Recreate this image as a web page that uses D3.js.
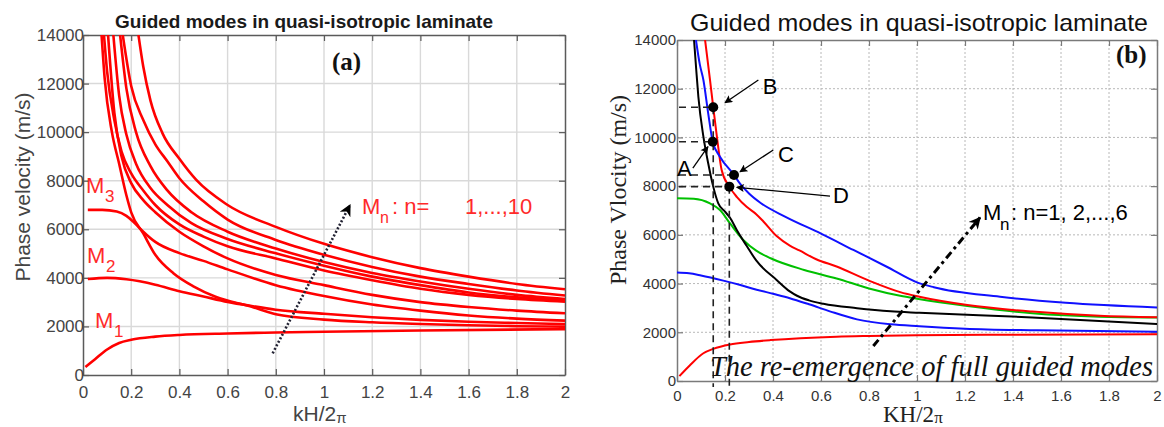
<!DOCTYPE html>
<html><head><meta charset="utf-8">
<script src="https://cdn.jsdelivr.net/npm/d3@7"></script>
<style>body{margin:0;background:#fff}svg{display:block}</style>
</head><body><svg id="c" width="1164" height="427"></svg>
<script>
// ---------------- DATA ----------------
const xTickVals = [0,0.2,0.4,0.6,0.8,1,1.2,1.4,1.6,1.8,2];
const xTickText = ["0","0.2","0.4","0.6","0.8","1","1.2","1.4","1.6","1.8","2"];
const yTickVals = [0,2000,4000,6000,8000,10000,12000,14000];
const yTickText = ["0","2000","4000","6000","8000","10000","12000","14000"];

const titleA = "Guided modes in quasi-isotropic laminate";
const titleB = "Guided modes in quasi-isotropic laminate";
const yLabelA = "Phase velocity (m/s)";
const yLabelB = "Phase Vlocity (m/s)";

// Panel (a): 10 guided modes [kH/2pi, phase velocity]
const a_M1 = [[0.01,330],[0.05,650],[0.1,1050],[0.15,1320],[0.2,1450],[0.3,1580],[0.4,1650],[0.6,1710],[0.8,1750],[1.0,1780],[1.4,1830],[2.0,1890]];
const a_M2 = [[0.02,3950],[0.1,4000],[0.18,3940],[0.3,3720],[0.4,3450],[0.5,3230],[0.6,3010],[0.7,2840],[0.8,2690],[1.0,2520],[1.2,2380],[1.4,2270],[1.6,2190],[1.8,2140],[2.0,2100]];
const a_M3 = [[0.02,6800],[0.08,6800],[0.14,6730],[0.18,6550],[0.21,6300],[0.25,5900],[0.3,5480],[0.4,5020],[0.5,4700],[0.6,4350],[0.8,3700],[1.0,3250],[1.2,2900],[1.4,2650],[1.6,2450],[1.8,2320],[2.0,2240]];
const a_S  = [[0.077,14000],[0.09,12200],[0.12,10000],[0.15,8700],[0.18,7400],[0.2,6700],[0.25,5830],[0.3,4950],[0.375,4190],[0.46,3640],[0.55,3220],[0.7,2810],[0.8,2500],[1.0,2280],[1.2,2170],[1.4,2100],[1.6,2050],[1.8,2010],[2.0,1990]];
const a_T1 = [[0.104,14000],[0.13,10800],[0.16,9000],[0.2,7900],[0.25,7200],[0.3,6700],[0.4,5900],[0.5,5300],[0.6,4800],[0.8,4120],[1.0,3700],[1.2,3300],[1.4,3000],[1.6,2800],[1.8,2650],[2.0,2540]];
const a_T2 = [[0.087,14000],[0.1,12500],[0.13,10500],[0.16,9200],[0.2,8300],[0.25,7600],[0.3,7000],[0.4,6200],[0.5,5700],[0.6,5300],[0.8,4800],[1.0,4300],[1.2,3900],[1.4,3550],[1.6,3300],[1.8,3130],[2.0,3020]];
const a_T3 = [[0.126,14000],[0.15,11500],[0.18,9900],[0.22,8700],[0.28,7700],[0.35,7000],[0.45,6250],[0.6,5600],[0.8,5010],[1.0,4500],[1.2,4050],[1.4,3700],[1.6,3400],[1.8,3200],[2.0,3080]];
const a_T4 = [[0.154,14000],[0.18,11800],[0.22,10000],[0.28,8600],[0.35,7600],[0.45,6700],[0.6,5900],[0.8,5210],[1.0,4650],[1.2,4200],[1.4,3850],[1.6,3550],[1.8,3300],[2.0,3130]];
const a_T5 = [[0.165,14000],[0.2,11900],[0.25,10500],[0.3,9500],[0.35,8800],[0.4,8100],[0.5,7150],[0.6,6400],[0.8,5560],[1.0,4950],[1.2,4450],[1.4,4050],[1.6,3750],[1.8,3480],[2.0,3270]];
const a_T6 = [[0.23,14000],[0.25,12700],[0.28,11300],[0.33,9950],[0.4,8900],[0.47,8030],[0.6,7000],[0.8,6100],[1.0,5400],[1.2,4850],[1.4,4400],[1.6,4050],[1.8,3750],[2.0,3530]];

// Panel (b): 6 guided modes
const b_red1  = [[0.01,200],[0.054,650],[0.11,1140],[0.151,1320],[0.221,1500],[0.3,1600],[0.39,1680],[0.665,1820],[0.8,1850],[1.0,1880],[1.4,1900],[2.0,1920]];
const b_blue1 = [[0,4450],[0.05,4420],[0.1,4330],[0.193,4120],[0.26,3950],[0.332,3750],[0.4,3580],[0.47,3400],[0.55,3150],[0.64,2850],[0.75,2530],[0.89,2330],[1.01,2250],[1.2,2150],[1.5,2080],[2.0,2020]];
const b_green = [[0,7500],[0.07,7480],[0.1375,7290],[0.179,7020],[0.221,6470],[0.276,5790],[0.33,5350],[0.39,5040],[0.53,4560],[0.665,4210],[0.8,3800],[0.93,3500],[1.0,3380],[1.21,3080],[1.48,2780],[1.76,2640],[2.0,2610]];
const b_black = [[0.071,14000],[0.08,12800],[0.089,11670],[0.11,10030],[0.13,8940],[0.151,7980],[0.172,7290],[0.2,6950],[0.221,6700],[0.249,6200],[0.29,5550],[0.33,4950],[0.415,4150],[0.47,3680],[0.5,3500],[0.55,3310],[0.61,3170],[0.75,2990],[0.89,2860],[1.01,2800],[1.48,2610],[2.0,2340]];
const b_red2  = [[0.117,14000],[0.1375,12360],[0.151,11240],[0.168,9890],[0.186,8660],[0.218,7980],[0.25,7550],[0.29,7150],[0.33,6850],[0.36,6550],[0.415,5950],[0.47,5560],[0.51,5360],[0.58,5000],[0.665,4700],[0.8,4120],[0.93,3650],[1.01,3460],[1.21,3120],[1.48,2850],[1.76,2680],[2.0,2620]];
const b_blue2 = [[0.079,14000],[0.095,13000],[0.11,12360],[0.13,10990],[0.149,9820],[0.179,9210],[0.2375,8460],[0.2625,8100],[0.3,7700],[0.35,7300],[0.45,6750],[0.6,6050],[0.735,5380],[0.874,4690],[1.0,4050],[1.07,3850],[1.346,3460],[1.62,3210],[2.0,3020]];

// Panel (b) marked points A-D
const ptLabels = ["A","B","C","D"];
const ptK = [0.149,0.151,0.2375,0.218];
const ptV = [9820,11240,8460,7980];

// annotation arrows (data units)
const arrowA_from = [0.787,893], arrowA_to = [1.108,7000];
const arrowB_from = [0.818,1437], arrowB_to = [1.2625,6710];

// ---------------- DRAW ----------------
const sans = "'Liberation Sans', Arial, sans-serif";
const serif = "'Liberation Serif', 'Times New Roman', serif";
const svg = d3.select("#c");
const defs = svg.append("defs");
function mk(id, len, wid, shape){
  defs.append("marker").attr("id",id).attr("viewBox","0 0 10 10")
    .attr("refX",9).attr("refY",5).attr("markerUnits","userSpaceOnUse")
    .attr("markerWidth",len).attr("markerHeight",wid).attr("orient","auto")
    .append("path").attr("d",shape).attr("fill","#000");
}
mk("ahThin",13,8,"M0,0 L10,5 L0,10 L2,5 z");
mk("ahBig",16,12,"M0,0 L10,5 L0,10 L3,5 z");

const xA = d3.scaleLinear([0,2],[83,565]);
const yA = d3.scaleLinear([0,14000],[375,35]);
const xB = d3.scaleLinear([0,2],[677,1157]);
const yB = d3.scaleLinear([0,14000],[381,40]);

function panel(g, x, y, opt){
  const [x0,x1] = x.range(), [y0,y1] = y.range();
  g.append("clipPath").attr("id",opt.id).append("rect")
    .attr("x",x0).attr("y",y1).attr("width",x1-x0).attr("height",y0-y1);
  g.append("g").selectAll("line").data(xTickVals.slice(1,-1)).join("line")
    .attr("x1",d=>x(d)).attr("x2",d=>x(d)).attr("y1",y1).attr("y2",y0)
    .attr("stroke",opt.grid).attr("stroke-width",opt.gridW).attr("stroke-dasharray",opt.gridDash);
  g.append("g").selectAll("line").data(yTickVals.slice(1,-1)).join("line")
    .attr("y1",d=>y(d)).attr("y2",d=>y(d)).attr("x1",x0).attr("x2",x1)
    .attr("stroke",opt.grid).attr("stroke-width",opt.gridW).attr("stroke-dasharray",opt.gridDash);
  const fx = (d,i)=>xTickText[i], fy=(d,i)=>yTickText[i];
  const axB = g.append("g").attr("transform",`translate(0,${y0})`)
    .call(d3.axisBottom(x).tickValues(xTickVals).tickFormat(fx).tickSizeInner(-6).tickSizeOuter(0).tickPadding(opt.xPad));
  const axL = g.append("g").attr("transform",`translate(${x0},0)`)
    .call(d3.axisLeft(y).tickValues(yTickVals).tickFormat(fy).tickSizeInner(-6).tickSizeOuter(0).tickPadding(opt.yPad));
  const axT = g.append("g").attr("transform",`translate(0,${y1})`)
    .call(d3.axisTop(x).tickValues(xTickVals).tickFormat("").tickSizeInner(-6).tickSizeOuter(0));
  const axR = g.append("g").attr("transform",`translate(${x1},0)`)
    .call(d3.axisRight(y).tickValues(yTickVals).tickFormat("").tickSizeInner(-6).tickSizeOuter(0));
  [axB,axL,axT,axR].forEach(a=>{
    a.select(".domain").attr("stroke",opt.frame).attr("stroke-width",1.5);
    a.selectAll(".tick line").attr("stroke",opt.frame).attr("stroke-width",1.2);
    a.selectAll("text").attr("font-family",sans).attr("font-size",opt.tickFs).attr("fill",opt.tickCol);
  });
}

// ---- Panel (a)
const gA = svg.append("g");
panel(gA, xA, yA, {id:"clipA", grid:"#d9d9d9", gridW:1.4, gridDash:null, frame:"#5a5a5a", xPad:11, yPad:-1, tickFs:17, tickCol:"#444"});
const lineA = d3.line().x(d=>xA(d[0])).y(d=>yA(d[1])).curve(d3.curveMonotoneX);
const modesA = [a_M1,a_M2,a_M3,a_S,a_T1,a_T2,a_T3,a_T4,a_T5,a_T6];
gA.append("g").attr("clip-path","url(#clipA)").selectAll("path").data(modesA).join("path")
  .attr("d",lineA).attr("fill","none").attr("stroke","#ff0000").attr("stroke-width",2.6);

gA.append("text").attr("x",115).attr("y",28).attr("font-family",sans).attr("font-weight","bold")
  .attr("font-size",19).attr("fill","#1a1a1a").text(titleA);
gA.append("text").attr("x",332).attr("y",70).attr("font-family",serif).attr("font-weight","bold")
  .attr("font-size",25).attr("fill","#111").text("(a)");
gA.append("text").attr("transform","translate(30,187) rotate(-90)").attr("text-anchor","middle")
  .attr("font-family",sans).attr("font-size",21).attr("fill","#444").text(yLabelA);
const xlA = gA.append("text").attr("x",293).attr("y",421).attr("font-family",sans).attr("font-size",21).attr("fill","#444");
xlA.append("tspan").text("kH/2");
xlA.append("tspan").attr("font-size",15).attr("dy",2).text("π");

function mLabel(g, x, y, sub, col){
  g.append("text").attr("x",x).attr("y",y).attr("font-family",sans).attr("font-size",22).attr("fill",col).text("M");
  g.append("text").attr("x",x+19).attr("y",y+9).attr("font-family",sans).attr("font-size",17).attr("fill",col).text(sub);
}
const redLab = "#ff2a2a";
mLabel(gA, 86, 193, "3", redLab);
mLabel(gA, 87, 263, "2", redLab);
mLabel(gA, 95, 328, "1", redLab);
gA.append("text").attr("x",362).attr("y",214).attr("font-family",sans).attr("font-size",22).attr("fill",redLab).text("M");
gA.append("text").attr("x",380).attr("y",223).attr("font-family",sans).attr("font-size",16).attr("fill",redLab).text("n");
gA.append("text").attr("x",392).attr("y",214).attr("font-family",sans).attr("font-size",22).attr("fill",redLab).text(": n=");
gA.append("text").attr("x",465).attr("y",214).attr("font-family",sans).attr("font-size",22).attr("fill",redLab).text("1,...,10");
gA.append("line").attr("x1",xA(arrowA_from[0])).attr("y1",yA(arrowA_from[1]))
  .attr("x2",xA(arrowA_to[0])).attr("y2",yA(arrowA_to[1]))
  .attr("stroke","#223").attr("stroke-width",2.6).attr("stroke-dasharray","2,2").attr("marker-end","url(#ahBig)");

// ---- Panel (b)
const gB = svg.append("g");
panel(gB, xB, yB, {id:"clipB", grid:"#b8b8b8", gridW:1, gridDash:"2,2", frame:"#7a7a7a", xPad:9, yPad:1, tickFs:15, tickCol:"#333"});
const lineB = d3.line().x(d=>xB(d[0])).y(d=>yB(d[1])).curve(d3.curveMonotoneX);
const modesB = [b_red1,b_blue1,b_green,b_black,b_red2,b_blue2];
const colorsB = ["#ff0000","#1010ff","#00c000","#000000","#ff0000","#1010ff"];
gB.append("g").attr("clip-path","url(#clipB)").selectAll("path").data(modesB).join("path")
  .attr("d",lineB).attr("fill","none").attr("stroke",(d,i)=>colorsB[i]).attr("stroke-width",2);

// dashed guide lines
const pts = ptLabels.map((l,i)=>({l, k:ptK[i], v:ptV[i]}));
const dashG = gB.append("g").attr("stroke","#222").attr("stroke-width",1.6).attr("stroke-dasharray","7,5").attr("fill","none");
dashG.selectAll("line.h").data(pts).join("line").attr("class","h")
  .attr("x1",xB(0)+2).attr("x2",d=>xB(d.k)).attr("y1",d=>yB(d.v)).attr("y2",d=>yB(d.v));
dashG.selectAll("line.v").data(pts.filter(d=>d.l==="B"||d.l==="D")).join("line").attr("class","v")
  .attr("x1",d=>xB(d.k)).attr("x2",d=>xB(d.k)).attr("y1",d=>yB(d.v)).attr("y2",yB(-250));
gB.append("g").selectAll("circle").data(pts).join("circle")
  .attr("cx",d=>xB(d.k)).attr("cy",d=>yB(d.v)).attr("r",5).attr("fill","#000");

// point labels + arrows: [label position, arrow start, arrow tip]
const labPos = {A:[[0.0,8400],[0.066,8744],[0.129,9618]], B:[[0.357,11800],[0.339,12356],[0.2,11425]],
                C:[[0.421,9000],[0.401,9483],[0.2625,8592]], D:[[0.65,7300],[0.6375,7594],[0.249,7952]]};
pts.forEach(p=>{
  const [t,f,to] = labPos[p.l];
  gB.append("line").attr("x1",xB(f[0])).attr("y1",yB(f[1])).attr("x2",xB(to[0])).attr("y2",yB(to[1]))
    .attr("stroke","#000").attr("stroke-width",1.3).attr("marker-end","url(#ahThin)");
  gB.append("text").attr("x",xB(t[0])).attr("y",yB(t[1])).attr("font-family",sans).attr("font-size",22)
    .attr("fill","#000").text(p.l);
});

gB.append("line").attr("x1",xB(arrowB_from[0])).attr("y1",yB(arrowB_from[1]))
  .attr("x2",xB(arrowB_to[0])).attr("y2",yB(arrowB_to[1]))
  .attr("stroke","#000").attr("stroke-width",3).attr("stroke-dasharray","8,4,3,4").attr("marker-end","url(#ahBig)");
gB.append("text").attr("x",983).attr("y",220).attr("font-family",sans).attr("font-size",22).attr("fill","#000").text("M");
gB.append("text").attr("x",1000).attr("y",230).attr("font-family",sans).attr("font-size",17).attr("fill","#000").text("n");
gB.append("text").attr("x",1011).attr("y",220).attr("font-family",sans).attr("font-size",22).attr("fill","#000").text(": n=1, 2,...,6");

gB.append("text").attr("x",710).attr("y",376).attr("font-family",serif).attr("font-style","italic")
  .attr("font-size",29).attr("textLength",443).attr("lengthAdjust","spacingAndGlyphs").attr("fill","#111")
  .text("The re-emergence of full guided modes");

gB.append("text").attr("x",690).attr("y",31).attr("font-family",sans).attr("font-size",24)
  .attr("textLength",458).attr("lengthAdjust","spacingAndGlyphs").attr("fill","#111").text(titleB);
gB.append("text").attr("x",1116).attr("y",63).attr("font-family",serif).attr("font-weight","bold")
  .attr("font-size",25).attr("fill","#111").text("(b)");
gB.append("text").attr("transform","translate(626,190) rotate(-90)").attr("text-anchor","middle")
  .attr("font-family",serif).attr("font-size",24).attr("fill","#222").text(yLabelB);
const xlB = gB.append("text").attr("x",883).attr("y",422).attr("font-family",serif).attr("font-size",23).attr("fill","#222");
xlB.append("tspan").text("KH/2");
xlB.append("tspan").attr("font-size",17).attr("dy",1).text("π");
</script></body></html>
